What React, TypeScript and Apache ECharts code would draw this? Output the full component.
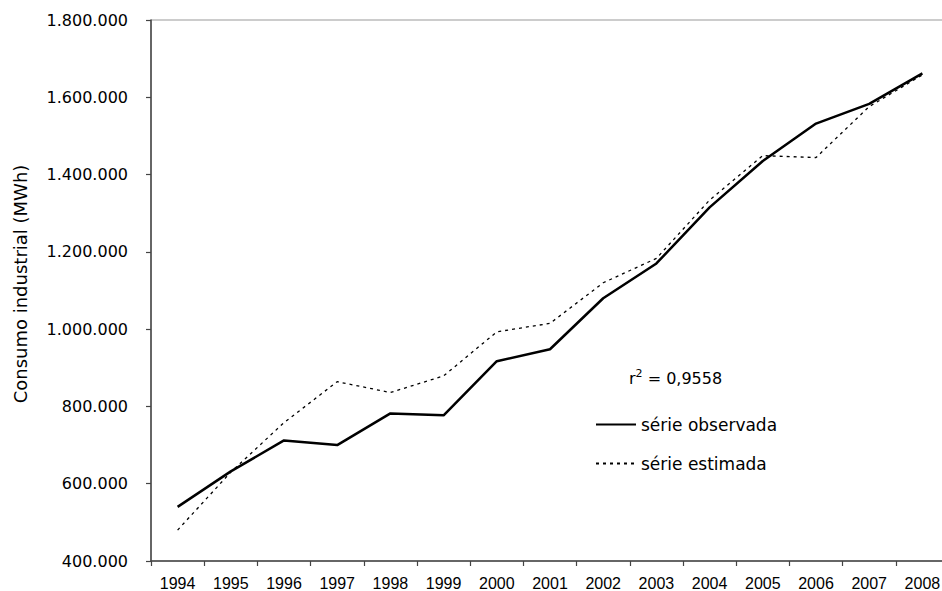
import React, { useEffect, useRef } from "react";
import * as echarts from "echarts";

const years = ["1994", "1995", "1996", "1997", "1998", "1999", "2000", "2001", "2002", "2003", "2004", "2005", "2006", "2007", "2008"];
const observada = [540000, 632000, 712000, 700000, 782000, 777000, 917000, 948000, 1080000, 1170000, 1315000, 1435000, 1532000, 1583000, 1662000];
const estimada = [480000, 630000, 758000, 864000, 836000, 879000, 993000, 1015000, 1120000, 1183000, 1334000, 1449000, 1444000, 1576000, 1658000];
const yMin = 400000;
const yMax = 1800000;
const yStep = 200000;
const seriesNames = ["série observada", "série estimada"];
const yTitle = "Consumo industrial (MWh)";
const r2Label = "0,9558";

const fmt = (v: number) => String(Math.round(v)).replace(/\B(?=(\d{3})+(?!\d))/g, ".");

export default function App() {
  const ref = useRef<HTMLDivElement>(null);
  useEffect(() => {
    if (!ref.current) return;
    const chart = echarts.init(ref.current, null, { renderer: "svg" });
    chart.setOption({
      animation: false,
      backgroundColor: "#fff",
      grid: {
        left: 151,
        top: 20,
        right: -7,
        bottom: 30,
        containLabel: false,
        outerBoundsMode: "none",
        show: true,
        borderColor: "#999",
        borderWidth: 1,
        backgroundColor: "transparent",
      },
      legend: {
        orient: "vertical",
        left: 595,
        top: 416,
        padding: 0,
        itemWidth: 40,
        itemHeight: 14,
        itemGap: 22,
        data: seriesNames,
        itemStyle: { opacity: 0 },
        textStyle: { fontFamily: "DejaVu Sans", fontSize: 17, color: "#000" },
      },
      xAxis: {
        type: "category",
        data: years,
        boundaryGap: true,
        axisLine: { show: true, lineStyle: { color: "#444", width: 1.5 } },
        axisTick: { show: true, alignWithLabel: false, length: 5, lineStyle: { color: "#444", width: 1.2 } },
        axisLabel: { fontFamily: "Liberation Sans", fontSize: 16, color: "#000", margin: 14, interval: 0 },
        splitLine: { show: false },
      },
      yAxis: {
        type: "value",
        min: yMin,
        max: yMax,
        interval: yStep,
        axisLine: { show: true, lineStyle: { color: "#444", width: 1.5 } },
        axisTick: { show: true, length: 5, lineStyle: { color: "#444", width: 1.2 } },
        axisLabel: { fontFamily: "DejaVu Sans", fontSize: 16, color: "#000", margin: 23, formatter: (v: number) => fmt(v) },
        splitLine: { show: false },
      },
      graphic: [
        {
          type: "text",
          x: 20,
          y: 284,
          rotation: Math.PI / 2,
          style: {
            text: yTitle,
            fontFamily: "DejaVu Sans",
            fontSize: 18,
            fill: "#000",
            align: "center",
            verticalAlign: "middle",
          },
        },
        {
          type: "text",
          x: 629,
          y: 378,
          style: {
            text: "r{sup|2} = " + r2Label,
            fontFamily: "DejaVu Sans",
            fontSize: 16,
            fill: "#000",
            align: "left",
            verticalAlign: "middle",
            rich: {
              sup: { fontFamily: "DejaVu Sans", fontSize: 11, verticalAlign: "top", padding: [0, 0, 9, 0], fill: "#000" },
            },
          },
        },
      ],
      series: [
        {
          name: seriesNames[0],
          type: "line",
          data: observada,
          symbol: "none",
          lineStyle: { color: "#000", width: 2.5, type: "solid" },
          itemStyle: { color: "#000" },
          z: 3,
        },
        {
          name: seriesNames[1],
          type: "line",
          data: estimada,
          symbol: "none",
          lineStyle: { color: "#000", width: 1.3, type: [3, 4] },
          itemStyle: { color: "#000" },
          z: 2,
        },
      ],
    });
    return () => chart.dispose();
  }, []);
  return <div ref={ref} style={{ position: "fixed", left: 0, top: 0, width: 942, height: 591 }} />;
}
